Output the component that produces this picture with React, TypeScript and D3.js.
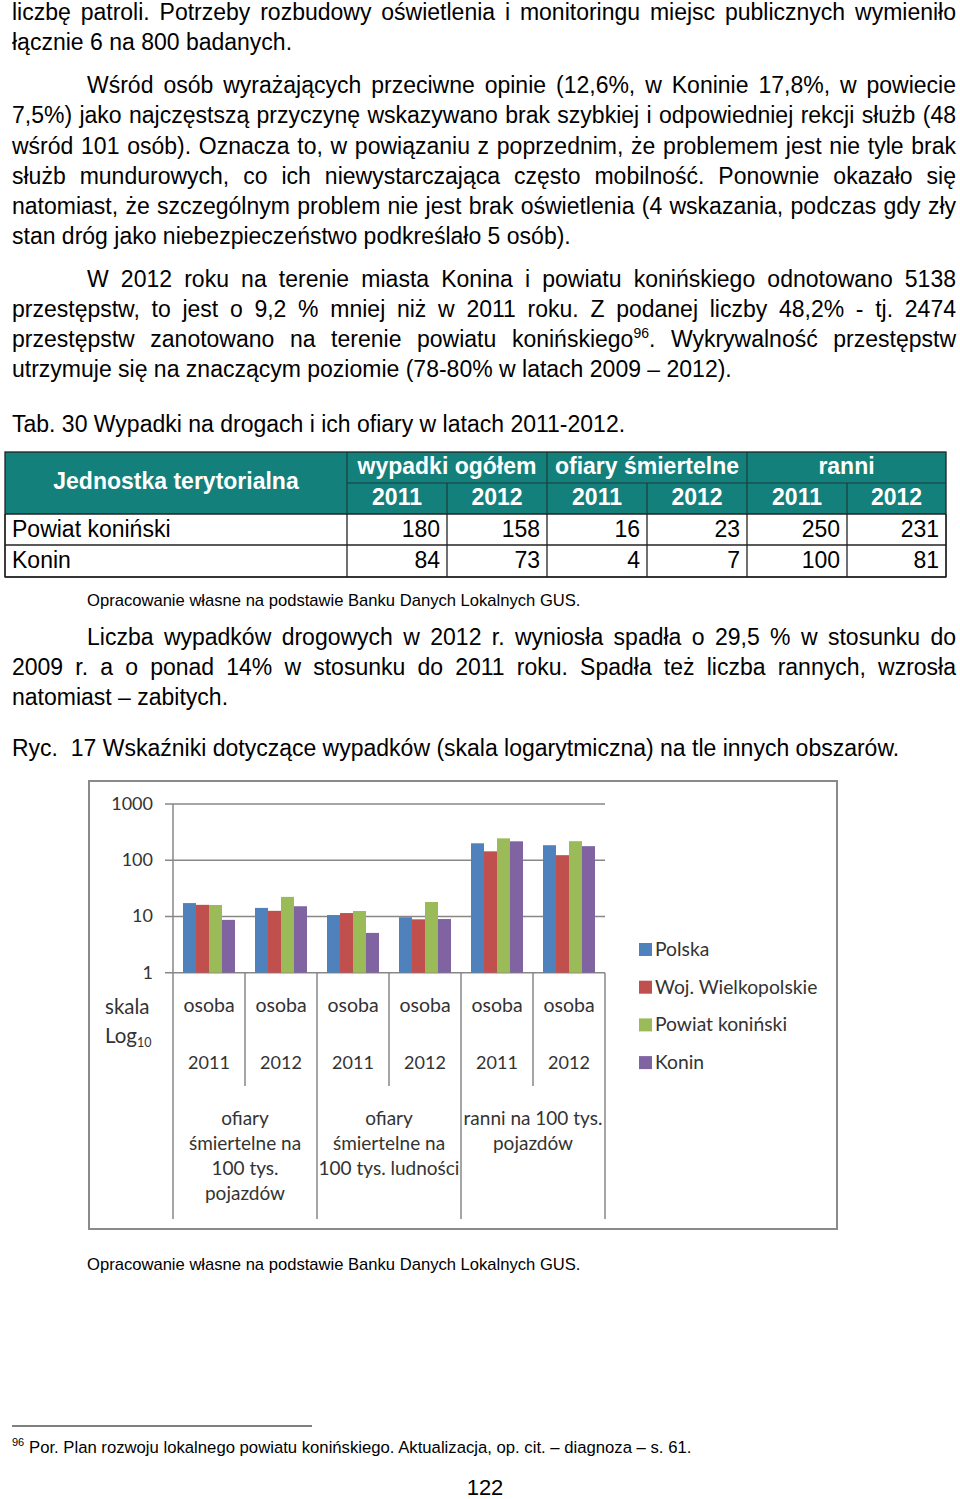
import React, { useEffect, useRef } from 'react';
import * as d3 from 'd3';

// chart data (per 100 tys.), log scale
const categories = ['2011', '2012', '2011', '2012', '2011', '2012'];
const unitLabel = 'osoba';
const groups = [
  ['ofiary', 'śmiertelne na', '100 tys.', 'pojazdów'],
  ['ofiary', 'śmiertelne na', '100 tys. ludności'],
  ['ranni na 100 tys.', 'pojazdów'],
];
const seriesNames = ['Polska', 'Woj. Wielkopolskie', 'Powiat koniński', 'Konin'];
const polska = [17.3, 14.2, 10.6, 9.7, 200, 185];
const wielkopolskie = [16.1, 12.6, 11.5, 8.9, 144, 123];
const powiat = [16.0, 22.3, 12.5, 18.1, 245, 218];
const konin = [8.7, 15.2, 5.1, 9.0, 217, 178];
const seriesValues = [polska, wielkopolskie, powiat, konin];
const seriesColors = ['#4f81bd', '#c0504d', '#9bbb59', '#8064a2'];
const yTicks = [1, 10, 100, 1000];

// table data
const tableUnits = ['Powiat koniński', 'Konin'];
const tableGroups = ['wypadki ogółem', 'ofiary śmiertelne', 'ranni'];
const tableYears = ['2011', '2012'];
const wypadki2011 = [180, 84];
const wypadki2012 = [158, 73];
const ofiary2011 = [16, 4];
const ofiary2012 = [23, 7];
const ranni2011 = [250, 100];
const ranni2012 = [231, 81];
const tableCols = [wypadki2011, wypadki2012, ofiary2011, ofiary2012, ranni2011, ranni2012];

// page text
const bodyLines: { t: string; x: number; y: number; j: boolean; sup?: [string, string, string] }[] = [
  { t: 'liczbę patroli. Potrzeby rozbudowy oświetlenia i monitoringu miejsc publicznych wymieniło', x: 12, y: 20, j: true },
  { t: 'łącznie 6 na 800 badanych.', x: 12, y: 50, j: false },
  { t: 'Wśród osób wyrażających przeciwne opinie (12,6%, w Koninie 17,8%, w powiecie', x: 87, y: 93, j: true },
  { t: '7,5%) jako najczęstszą przyczynę wskazywano brak szybkiej i odpowiedniej rekcji służb (48', x: 12, y: 123, j: true },
  { t: 'wśród 101 osób). Oznacza to, w powiązaniu z poprzednim, że problemem jest nie tyle brak', x: 12, y: 154, j: true },
  { t: 'służb mundurowych, co ich niewystarczająca często mobilność. Ponownie okazało się', x: 12, y: 184, j: true },
  { t: 'natomiast, że szczególnym problem nie jest brak oświetlenia (4 wskazania, podczas gdy zły', x: 12, y: 214, j: true },
  { t: 'stan dróg jako niebezpieczeństwo podkreślało 5 osób).', x: 12, y: 244, j: false },
  { t: 'W 2012 roku na terenie miasta Konina i powiatu konińskiego odnotowano 5138', x: 87, y: 287, j: true },
  { t: 'przestępstw, to jest o 9,2 % mniej niż w 2011 roku. Z podanej liczby 48,2% - tj. 2474', x: 12, y: 317, j: true },
  { t: '', x: 12, y: 347, j: true, sup: ['przestępstw zanotowano na terenie powiatu konińskiego', '96', '. Wykrywalność przestępstw'] },
  { t: 'utrzymuje się na znaczącym poziomie (78-80% w latach 2009 – 2012).', x: 12, y: 377, j: false },
  { t: 'Tab. 30 Wypadki na drogach i ich ofiary w latach 2011-2012.', x: 12, y: 432, j: false },
  { t: 'Liczba wypadków drogowych w 2012 r. wyniosła spadła o 29,5 % w stosunku do', x: 87, y: 645, j: true },
  { t: '2009 r. a o ponad 14% w stosunku do 2011 roku. Spadła też liczba rannych, wzrosła', x: 12, y: 675, j: true },
  { t: 'natomiast – zabitych.', x: 12, y: 705, j: false },
  { t: 'Ryc.  17 Wskaźniki dotyczące wypadków (skala logarytmiczna) na tle innych obszarów.', x: 12, y: 756, j: false },
];
const sourceNote = 'Opracowanie własne na podstawie Banku Danych Lokalnych GUS.';
const footnote = 'Por. Plan rozwoju lokalnego powiatu konińskiego. Aktualizacja, op. cit. – diagnoza – s. 61.';

const ARIAL = '"Liberation Sans", Arial, sans-serif';
const CAL = 'Lato, "Open Sans", sans-serif';
const RIGHT = 956;

const App = () => {
  const ref = useRef<SVGSVGElement>(null);

  useEffect(() => {
    const justify = () => {
      d3.select(ref.current).selectAll<SVGTextElement, unknown>('text.just').each(function () {
        this.style.wordSpacing = '0px';
        const x = +(this.getAttribute('x') || 0);
        const w = this.getComputedTextLength();
        const spaces = ((this.textContent || '').match(/ /g) || []).length;
        if (spaces) this.style.wordSpacing = (RIGHT - x - w) / spaces + 'px';
      });
    };
    justify();
    (document as any).fonts?.ready.then(justify);
  }, []);

  // chart scales
  const x = d3.scaleBand<number>().domain(d3.range(categories.length)).range([173, 605]);
  const inner = d3.scaleBand<number>().domain(d3.range(seriesNames.length)).range([10, x.bandwidth() - 10]);
  const y = d3.scaleLog().domain([1, 1000]).range([972.7, 804]);
  const base = y(1);

  // table layout
  const colX = [5, 347, 447, 547, 647, 747, 847, 946];
  const rowY = [452, 483, 514, 545, 577];
  const teal = '#13807c';

  return (
    <div style={{ position: 'absolute', left: 0, top: 0 }}>
      <svg ref={ref} width={960} height={1499} style={{ display: 'block', background: '#fff' }}>
        <g fontFamily={ARIAL} fontSize={23} fill="#000">
          {bodyLines.map((l, i) =>
            l.sup ? (
              <text key={i} className="just" x={l.x} y={l.y}>
                {l.sup[0]}
                <tspan fontSize={14} dy={-9}>{l.sup[1]}</tspan>
                <tspan dy={9}>{l.sup[2]}</tspan>
              </text>
            ) : (
              <text key={i} className={l.j ? 'just' : ''} x={l.x} y={l.y} style={{ whiteSpace: 'pre' }}>
                {l.t}
              </text>
            )
          )}
        </g>

        {/* table */}
        <g fontFamily={ARIAL} fontSize={23}>
          <rect x={colX[0]} y={rowY[0]} width={colX[7] - colX[0]} height={rowY[2] - rowY[0]} fill={teal} />
          <text x={(colX[0] + colX[1]) / 2} y={489} textAnchor="middle" fill="#fff" fontWeight="bold">
            Jednostka terytorialna
          </text>
          {tableGroups.map((g, i) => (
            <text key={g} x={(colX[1 + i * 2] + colX[3 + i * 2]) / 2} y={474} textAnchor="middle" fill="#fff" fontWeight="bold">
              {g}
            </text>
          ))}
          {d3.range(6).map((i) => (
            <text key={i} x={(colX[1 + i] + colX[2 + i]) / 2} y={505} textAnchor="middle" fill="#fff" fontWeight="bold">
              {tableYears[i % 2]}
            </text>
          ))}
          <g stroke="#1d3b3a" strokeWidth={1.2}>
            <line x1={colX[1]} x2={colX[7]} y1={rowY[1]} y2={rowY[1]} />
            {[1, 3, 5].map((c) => (
              <line key={c} x1={colX[c]} x2={colX[c]} y1={rowY[0]} y2={rowY[2]} />
            ))}
            {[2, 4, 6].map((c) => (
              <line key={c} x1={colX[c]} x2={colX[c]} y1={rowY[1]} y2={rowY[2]} />
            ))}
          </g>
          <g stroke="#222" strokeWidth={1.3}>
            {[2, 3, 4].map((r) => (
              <line key={r} x1={colX[0]} x2={colX[7]} y1={rowY[r]} y2={rowY[r]} />
            ))}
            {colX.map((cx, c) => (
              <line key={c} x1={cx} x2={cx} y1={rowY[2]} y2={rowY[4]} />
            ))}
            <rect x={colX[0]} y={rowY[0]} width={colX[7] - colX[0]} height={rowY[4] - rowY[0]} fill="none" />
          </g>
          {tableUnits.map((u, r) => (
            <g key={u}>
              <text x={12} y={rowY[2 + r] + 23}>{u}</text>
              {tableCols.map((col, c) => (
                <text key={c} x={colX[c + 2] - 7} y={rowY[2 + r] + 23} textAnchor="end">
                  {col[r]}
                </text>
              ))}
            </g>
          ))}
        </g>

        <text x={87} y={606} fontFamily={ARIAL} fontSize={16.6}>{sourceNote}</text>

        {/* chart */}
        <rect x={89} y={781} width={748} height={448} fill="#fff" stroke="#8a8a8a" strokeWidth={2} />
        <g fontFamily={CAL} fontSize={18} fill="#333">
          {yTicks.map((t) => (
            <g key={t}>
              <line x1={165} x2={605} y1={y(t)} y2={y(t)} stroke="#878787" strokeWidth={1.5} />
              <text x={153} y={y(t) + 6} textAnchor="end">{t}</text>
            </g>
          ))}
          {seriesValues.map((vals, s) =>
            vals.map((v, i) => (
              <rect
                key={s + '-' + i}
                x={(x(i) as number) + (inner(s) as number)}
                y={y(v)}
                width={inner.bandwidth()}
                height={base - y(v)}
                fill={seriesColors[s]}
              />
            ))
          )}
          <g stroke="#878787" strokeWidth={1.5}>
            <line x1={173} x2={173} y1={y(1000)} y2={1219} />
            {d3.range(1, categories.length + 1).map((i) => {
              const xx = i === categories.length ? 605 : (x(i) as number);
              return <line key={i} x1={xx} x2={xx} y1={base} y2={i % 2 === 0 ? 1219 : 1086} />;
            })}
          </g>
          {categories.map((c, i) => (
            <g key={i}>
              <text x={(x(i) as number) + x.bandwidth() / 2} y={1012} textAnchor="middle" fontSize={19.5}>{unitLabel}</text>
              <text x={(x(i) as number) + x.bandwidth() / 2} y={1069} textAnchor="middle">{c}</text>
            </g>
          ))}
          {groups.map((lines, g) =>
            lines.map((ln, k) => (
              <text key={g + '-' + k} x={(x(g * 2) as number) + x.bandwidth()} y={1125 + k * 25} textAnchor="middle" fontSize={19}>
                {ln}
              </text>
            ))
          )}
          <text x={105} y={1014} fontSize={20.5}>skala</text>
          <text x={105} y={1043} fontSize={20.5}>
            Log<tspan fontSize={12.5} dy={4}>10</tspan>
          </text>
          {seriesNames.map((n, s) => (
            <g key={n}>
              <rect x={639} y={943 + s * 37.7} width={13} height={13} fill={seriesColors[s]} />
              <text x={655} y={956 + s * 37.7} fontSize={19.3}>{n}</text>
            </g>
          ))}
        </g>

        <text x={87} y={1270} fontFamily={ARIAL} fontSize={16.6}>{sourceNote}</text>

        <line x1={12} x2={312} y1={1426} y2={1426} stroke="#000" strokeWidth={1} />
        <g fontFamily={ARIAL} fill="#000">
          <text x={12} y={1446} fontSize={11}>96</text>
          <text x={29} y={1453} fontSize={16.7}>{footnote}</text>
          <text x={485} y={1495} fontSize={22} textAnchor="middle">122</text>
        </g>
      </svg>
    </div>
  );
};

export default App;
